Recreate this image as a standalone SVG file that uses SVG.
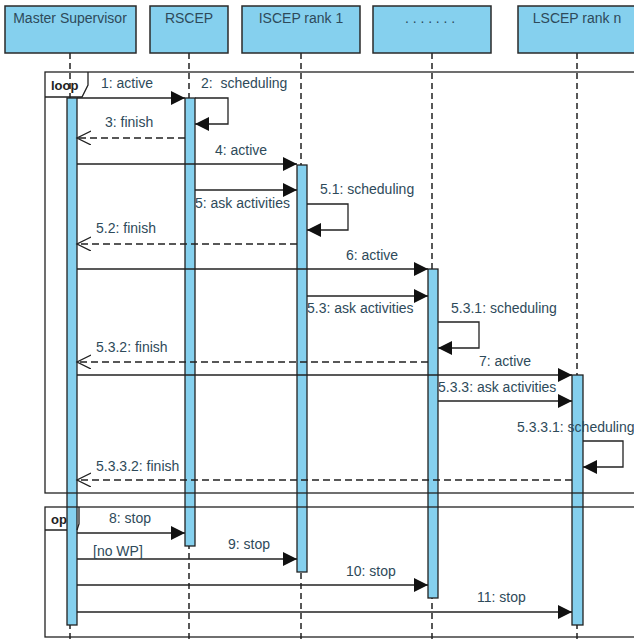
<svg xmlns="http://www.w3.org/2000/svg" width="634" height="640" viewBox="0 0 634 640">
<style>
.hdr{fill:#85d0ee;stroke:#2a2a2a;stroke-width:1.5}
.ht{font-family:"Liberation Sans",Arial,sans-serif;font-size:14px;fill:#2e4a5a;text-anchor:middle}
.life{stroke:#222;stroke-width:1.5;stroke-dasharray:6,4;fill:none}
.bar{fill:#85d0ee;stroke:#222;stroke-width:1.3}
.frame{fill:none;stroke:#222;stroke-width:1.3}
.msg{stroke:#222;stroke-width:1.3;fill:none}
.ret{stroke:#222;stroke-width:1.3;fill:none;stroke-dasharray:7,4}
.lb{font-family:"Liberation Sans",Arial,sans-serif;font-size:14px;fill:#2e4a5a}
.fl{font-family:"Liberation Sans",Arial,sans-serif;font-size:13px;font-weight:bold;fill:#222}
</style>
<defs>
<marker id="fa" markerWidth="15" markerHeight="15" refX="14" refY="7" orient="auto" markerUnits="userSpaceOnUse"><path d="M0,0 L14,7 L0,14 z" fill="#111"/></marker>
<marker id="oa" markerWidth="16" markerHeight="16" refX="14" refY="7" orient="auto" markerUnits="userSpaceOnUse"><path d="M0,0 L14,7 L0,14" fill="none" stroke="#222" stroke-width="1.3"/></marker>
</defs>
<rect width="634" height="640" fill="#fff"/>

<g id="lifelines">
<line class="life" x1="70" y1="53" x2="70" y2="640"/>
<line class="life" x1="189" y1="53" x2="189" y2="640"/>
<line class="life" x1="301" y1="53" x2="301" y2="640"/>
<line class="life" x1="432" y1="53" x2="432" y2="640"/>
<line class="life" x1="577" y1="53" x2="577" y2="640"/>
</g>

<g id="master"><rect class="hdr" x="5" y="6" width="131" height="47"/><text class="ht" x="70" y="23">Master Supervisor</text></g>
<g id="rscep"><rect class="hdr" x="150" y="6" width="78" height="47"/><text class="ht" x="189" y="23">RSCEP</text></g>
<g id="iscep"><rect class="hdr" x="242" y="6" width="118" height="47"/><text class="ht" x="301" y="23">ISCEP rank 1</text></g>
<g id="dots"><rect class="hdr" x="373" y="6" width="118" height="47"/><text class="ht" x="432" y="23" letter-spacing="3.8">.......</text></g>
<g id="lscep"><rect class="hdr" x="518" y="6" width="130" height="47"/><text class="ht" x="577" y="23">LSCEP rank n</text></g>

<g id="frame-labels">
<text class="fl" x="51" y="90">loop</text>
<text class="fl" x="51" y="524">opt</text>
</g>

<g id="bars">
<rect class="bar" x="67" y="98" width="10" height="527"/>
<rect class="bar" x="185" y="98" width="10" height="448"/>
<rect class="bar" x="297" y="165" width="10" height="407"/>
<rect class="bar" x="428" y="269" width="10" height="329"/>
<rect class="bar" x="572" y="375" width="11" height="250"/>
</g>

<g id="frames">
<rect class="frame" x="45" y="72" width="600" height="421"/>
<path class="frame" d="M45,97 H82 L88,85 V72"/>
<rect class="frame" x="45" y="507" width="600" height="130"/>
<path class="frame" d="M45,530 H67 M77,530 L79,524 V507"/>
</g>

<g id="connectors">
<line class="msg" x1="77" y1="98" x2="185" y2="98" marker-end="url(#fa)"/>
<path class="msg" d="M195,98 H228 V124 H195" marker-end="url(#fa)"/>
<line class="ret" x1="185" y1="138" x2="77" y2="138" marker-end="url(#oa)"/>
<line class="msg" x1="77" y1="164" x2="297" y2="164" marker-end="url(#fa)"/>
<line class="msg" x1="195" y1="190" x2="297" y2="190" marker-end="url(#fa)"/>
<path class="msg" d="M307,204 H348 V230 H307" marker-end="url(#fa)"/>
<line class="ret" x1="297" y1="244" x2="77" y2="244" marker-end="url(#oa)"/>
<line class="msg" x1="77" y1="269" x2="428" y2="269" marker-end="url(#fa)"/>
<line class="msg" x1="307" y1="296" x2="428" y2="296" marker-end="url(#fa)"/>
<path class="msg" d="M438,322 H479 V348 H438" marker-end="url(#fa)"/>
<line class="ret" x1="428" y1="362" x2="77" y2="362" marker-end="url(#oa)"/>
<line class="msg" x1="77" y1="375" x2="572" y2="375" marker-end="url(#fa)"/>
<line class="msg" x1="438" y1="401" x2="572" y2="401" marker-end="url(#fa)"/>
<path class="msg" d="M583,441 H623 V467 H583" marker-end="url(#fa)"/>
<line class="ret" x1="572" y1="480" x2="77" y2="480" marker-end="url(#oa)"/>
<line class="msg" x1="77" y1="533" x2="185" y2="533" marker-end="url(#fa)"/>
<line class="msg" x1="77" y1="559" x2="297" y2="559" marker-end="url(#fa)"/>
<line class="msg" x1="77" y1="585" x2="428" y2="585" marker-end="url(#fa)"/>
<line class="msg" x1="77" y1="612" x2="572" y2="612" marker-end="url(#fa)"/>
</g>

<g id="labels">
<text class="lb" x="101" y="88">1: active</text>
<text class="lb" x="201" y="88" xml:space="preserve">2:  scheduling</text>
<text class="lb" x="105" y="127">3: finish</text>
<text class="lb" x="215" y="155">4: active</text>
<text class="lb" x="195" y="208">5: ask activities</text>
<text class="lb" x="320" y="194">5.1: scheduling</text>
<text class="lb" x="96" y="233">5.2: finish</text>
<text class="lb" x="346" y="260">6: active</text>
<text class="lb" x="307" y="313">5.3: ask activities</text>
<text class="lb" x="451" y="313">5.3.1: scheduling</text>
<text class="lb" x="96" y="352">5.3.2: finish</text>
<text class="lb" x="479" y="366">7: active</text>
<text class="lb" x="438" y="392">5.3.3: ask activities</text>
<text class="lb" x="517" y="432">5.3.3.1: scheduling</text>
<text class="lb" x="96" y="471">5.3.3.2: finish</text>
<text class="lb" x="109" y="523">8: stop</text>
<text class="lb" x="228" y="549">9: stop</text>
<text class="lb" x="93" y="556">[no WP]</text>
<text class="lb" x="346" y="576">10: stop</text>
<text class="lb" x="477" y="602">11: stop</text>
</g>
</svg>
